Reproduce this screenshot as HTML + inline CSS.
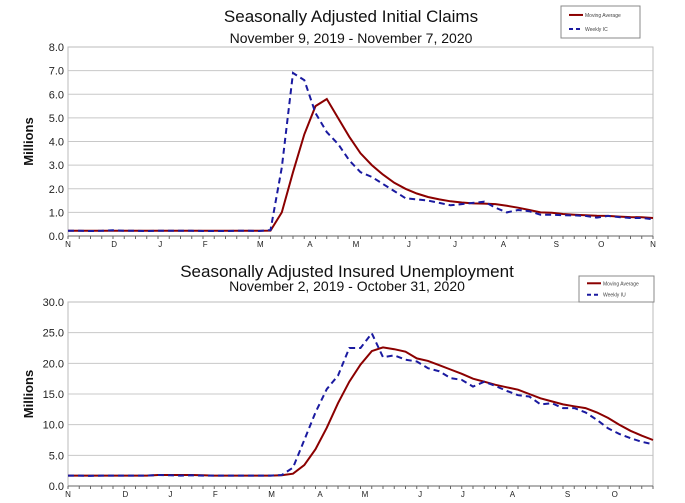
<!DOCTYPE html>
<html><head><meta charset="utf-8"><style>
body{margin:0;background:#fff;}
svg{display:block;font-family:"Liberation Sans",Arial,sans-serif;}
</style></head><body>
<svg id="c" width="685" height="503" viewBox="0 0 685 503"></svg>
<script>
const icMA=[0.22,0.22,0.22,0.22,0.22,0.22,0.22,0.22,0.22,0.22,0.22,0.22,0.22,0.22,0.22,0.22,0.22,0.22,0.23,1.0,2.7,4.3,5.5,5.8,5.0,4.2,3.5,3.0,2.6,2.25,2.0,1.8,1.65,1.55,1.47,1.42,1.38,1.37,1.35,1.28,1.2,1.1,1.0,0.98,0.93,0.9,0.88,0.86,0.85,0.82,0.8,0.79,0.76];
const icWeekly=[0.22,0.22,0.21,0.22,0.24,0.22,0.22,0.21,0.22,0.22,0.22,0.22,0.21,0.21,0.21,0.22,0.22,0.21,0.25,2.9,6.9,6.6,5.2,4.4,3.9,3.2,2.7,2.5,2.2,1.9,1.6,1.55,1.5,1.4,1.3,1.35,1.4,1.45,1.2,1.0,1.1,1.05,0.9,0.9,0.88,0.87,0.85,0.78,0.85,0.8,0.76,0.76,0.71];
const iuMA=[1.7,1.7,1.7,1.7,1.7,1.7,1.7,1.7,1.8,1.8,1.8,1.8,1.75,1.7,1.7,1.7,1.7,1.7,1.7,1.75,2.0,3.4,6.0,9.5,13.5,17.0,19.8,22.0,22.6,22.3,21.9,20.8,20.4,19.7,19.0,18.3,17.5,17.0,16.5,16.1,15.7,15.0,14.3,13.8,13.3,13.0,12.7,12.0,11.1,10.0,9.0,8.2,7.5];
const iuWeekly=[1.7,1.7,1.65,1.7,1.7,1.7,1.7,1.7,1.8,1.75,1.7,1.75,1.7,1.7,1.7,1.7,1.7,1.7,1.7,1.8,3.0,7.5,12.0,15.8,18.0,22.5,22.5,24.9,21.0,21.3,20.6,20.3,19.2,18.7,17.6,17.3,16.2,17.0,16.3,15.5,14.8,14.6,13.3,13.5,12.7,12.7,12.0,10.8,9.4,8.5,7.8,7.2,6.8];
const icTicks=["0.0","1.0","2.0","3.0","4.0","5.0","6.0","7.0","8.0"];
const iuTicks=["0.0","5.0","10.0","15.0","20.0","25.0","30.0"];
const icMonths=["N","D","J","F","M","A","M","J","J","A","S","O","N"];
const iuMonths=["N","D","J","F","M","A","M","J","J","A","S","O"];
const icMonthIdx=[0,4.1,8.2,12.2,17.1,21.5,25.6,30.3,34.4,38.7,43.4,47.4,52];
const iuMonthIdx=[0,5.1,9.1,13.1,18.1,22.4,26.4,31.3,35.1,39.5,44.4,48.6];

const svg=document.getElementById('c');
const NS='http://www.w3.org/2000/svg';
function mk(t,a,txt){const e=document.createElementNS(NS,t);for(const k in a)e.setAttribute(k,a[k]);if(txt!==undefined)e.textContent=txt;svg.appendChild(e);return e;}

function chart(o){
  const x0=68,x1=653,y0=o.top,y1=o.bottom;
  const xs=i=>x0+i*(x1-x0)/52;
  const ys=v=>y1-v/o.max*(y1-y0);
  let e;
  o.ticks.forEach((t,k)=>{
    const v=parseFloat(t),y=ys(v);
    e=mk('line',{x1:x0,x2:x1,y1:y,y2:y,stroke:'#c8c8c8','stroke-width':1});
    
    e=mk('text',{x:x0-4,y:y+4,'text-anchor':'end','font-size':11,fill:'#222'},t);
    
  });
  e=mk('rect',{x:x0,y:y0,width:x1-x0,height:y1-y0,fill:'none',stroke:'#bbb'});
  
  e=mk('line',{x1:x0,x2:x1,y1:y1,y2:y1,stroke:'#666'});
  
  for(let i=0;i<=52;i++){e=mk('line',{x1:xs(i),x2:xs(i),y1:y1,y2:y1+3,stroke:'#666'});
    }
  o.months.forEach((m,k)=>{
    e=mk('text',{x:xs(o.monthIdx[k]),y:y1+11,'text-anchor':'middle','font-size':8,fill:'#222'},m);
    
  });
  e=mk('text',{x:0,y:0,transform:`translate(33,${(y0+y1)/2}) rotate(-90)`,'text-anchor':'middle','font-size':13,'font-weight':'bold',fill:'#111'},'Millions');
  
  const pts=a=>a.map((v,i)=>xs(i).toFixed(1)+','+ys(v).toFixed(1)).join(' ');
  e=mk('polyline',{points:pts(o.ma),fill:'none',stroke:'#8b0000','stroke-width':2});
  
  e=mk('polyline',{points:pts(o.wk),fill:'none',stroke:'#1a1aa0','stroke-width':2,'stroke-dasharray':'6,4'});
  
  e=mk('text',{x:o.tx,y:o.ty,'text-anchor':'middle','font-size':17,fill:'#111'},o.title);
  
  e=mk('text',{x:o.tx,y:o.sy,'text-anchor':'middle','font-size':14,fill:'#111'},o.sub);
  
  const L=o.leg;
  e=mk('rect',{x:L.x,y:L.y,width:L.w,height:L.h,fill:'#fff',stroke:'#888'});
  
  e=mk('line',{x1:L.x+8,x2:L.x+22,y1:L.y+L.h*0.28,y2:L.y+L.h*0.28,stroke:'#8b0000','stroke-width':2});
  
  e=mk('text',{x:L.x+24,y:L.y+L.h*0.28+2,'font-size':5,fill:'#444'},'Moving Average');
  
  e=mk('line',{x1:L.x+8,x2:L.x+22,y1:L.y+L.h*0.72,y2:L.y+L.h*0.72,stroke:'#1a1aa0','stroke-width':2,'stroke-dasharray':'4,3'});
  
  e=mk('text',{x:L.x+24,y:L.y+L.h*0.72+2,'font-size':5,fill:'#444'},o.wkLabel);
  
}
chart({id:'initial-claims',top:47,bottom:236,max:8,ticks:icTicks,months:icMonths,monthIdx:icMonthIdx,ma:icMA,wk:icWeekly,
  title:'Seasonally Adjusted Initial Claims',sub:'November 9, 2019 - November 7, 2020',tx:351,ty:22,sy:43,
  leg:{x:561,y:6,w:79,h:32},wkLabel:'Weekly IC'});
chart({id:'insured-unemployment',top:302,bottom:486,max:30,ticks:iuTicks,months:iuMonths,monthIdx:iuMonthIdx,ma:iuMA,wk:iuWeekly,
  title:'Seasonally Adjusted Insured Unemployment',sub:'November 2, 2019 - October 31, 2020',tx:347,ty:277,sy:291,
  leg:{x:579,y:276,w:75,h:26},wkLabel:'Weekly IU'});
</script>
</body></html>
